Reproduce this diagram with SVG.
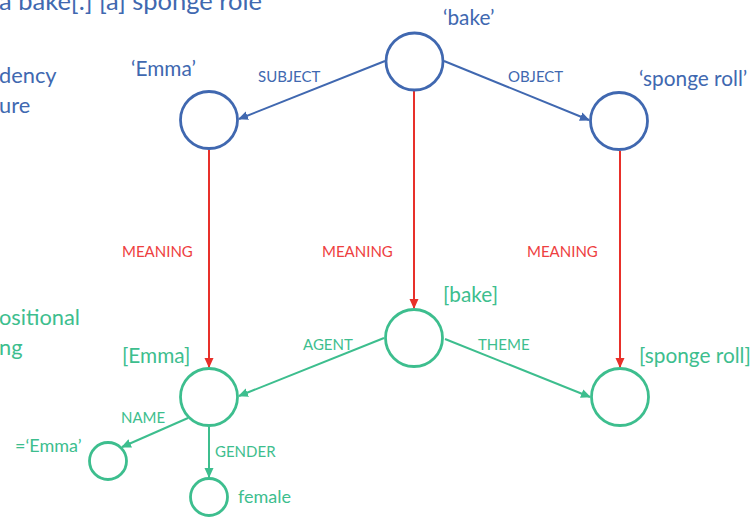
<svg xmlns="http://www.w3.org/2000/svg" width="752" height="518" viewBox="0 0 752 518">
<style>
text{font-family:Lato,"Open Sans","Liberation Sans",sans-serif}
.b{fill:#4068B0}
.g{fill:#3DBE8E}
.r{fill:#EE4040}
.big{font-size:20.8px}
.lab{font-size:15px}
.val{font-size:18px}
.side{font-size:21.8px}
.nb{fill:#fff;stroke:#4068B0;stroke-width:2.8}
.ng{fill:#fff;stroke:#3DBE8E;stroke-width:2.8}
.eb{stroke:#4068B0;stroke-width:2;fill:none}
.eg{stroke:#3DBE8E;stroke-width:2;fill:none}
.er{stroke:#E8302A;stroke-width:2;fill:none}
</style>
<defs>
<marker id="ab" viewBox="0 0 10 10" refX="9" refY="5" markerWidth="5" markerHeight="5" orient="auto" markerUnits="strokeWidth"><path d="M0,0.5 L10,5 L0,9.5 z" fill="#4068B0"/></marker>
<marker id="ag" viewBox="0 0 10 10" refX="9" refY="5" markerWidth="5" markerHeight="5" orient="auto" markerUnits="strokeWidth"><path d="M0,0.5 L10,5 L0,9.5 z" fill="#3DBE8E"/></marker>
<marker id="ar" viewBox="0 0 10 10" refX="9" refY="5" markerWidth="5" markerHeight="5" orient="auto" markerUnits="strokeWidth"><path d="M0,0.5 L10,5 L0,9.5 z" fill="#E8302A"/></marker>
</defs>
<rect width="752" height="518" fill="#fff"/>

<g id="side-text">
<text class="b" x="-1" y="10" font-size="25.5">a bake[.] [a] sponge role</text>
<text class="b side" x="-1" y="83">dency</text>
<text class="b side" x="-1" y="113">ure</text>
<text class="g side" x="-1" y="325">ositional</text>
<text class="g side" x="-1" y="355">ng</text>
</g>

<g id="connectors">
<line class="eb" x1="385" y1="61" x2="239" y2="119" marker-end="url(#ab)"/>
<line class="eb" x1="444" y1="61" x2="589" y2="120" marker-end="url(#ab)"/>
<line class="er" x1="209" y1="150" x2="209" y2="367" marker-end="url(#ar)"/>
<line class="er" x1="414" y1="91" x2="414" y2="308" marker-end="url(#ar)"/>
<line class="er" x1="620" y1="151" x2="620" y2="367" marker-end="url(#ar)"/>
<line class="eg" x1="384" y1="338" x2="239" y2="396" marker-end="url(#ag)"/>
<line class="eg" x1="445" y1="339" x2="590" y2="397" marker-end="url(#ag)"/>
<line class="eg" x1="188" y1="418" x2="122" y2="447" marker-end="url(#ag)"/>
<line class="eg" x1="209" y1="427" x2="209" y2="477" marker-end="url(#ag)"/>
<text class="b lab" x="258" y="82">SUBJECT</text>
<text class="b lab" x="508" y="82">OBJECT</text>
<text class="r lab" x="122" y="257">MEANING</text>
<text class="r lab" x="322" y="257">MEANING</text>
<text class="r lab" x="527" y="257">MEANING</text>
<text class="g lab" x="303" y="350">AGENT</text>
<text class="g lab" x="478" y="350">THEME</text>
<text class="g lab" x="121" y="423">NAME</text>
<text class="g lab" x="215" y="457">GENDER</text>
</g>

<g id="n-bake">
<circle class="nb" cx="414.5" cy="61.5" r="28.5"/>
<text class="b big" x="443" y="25">‘bake’</text>
</g>
<g id="n-emma">
<circle class="nb" cx="209" cy="120" r="28.5"/>
<text class="b big" x="131" y="76">‘Emma’</text>
</g>
<g id="n-sponge">
<circle class="nb" cx="619" cy="121" r="28.5"/>
<text class="b big" x="639" y="86">‘sponge roll’</text>
</g>
<g id="m-bake">
<circle class="ng" cx="414" cy="338" r="28.5"/>
<text class="g big" x="443" y="302">[bake]</text>
</g>
<g id="m-emma">
<circle class="ng" cx="209" cy="397" r="28.5"/>
<text class="g big" x="122" y="363">[Emma]</text>
</g>
<g id="m-sponge">
<circle class="ng" cx="620" cy="397" r="28.5"/>
<text class="g big" x="639" y="363">[sponge roll]</text>
</g>
<g id="m-name">
<circle class="ng" cx="108" cy="461" r="18.5"/>
<text class="g val" x="15" y="452">=‘Emma’</text>
</g>
<g id="m-female">
<circle class="ng" cx="209" cy="497" r="18.5"/>
<text class="g val" x="238" y="503">female</text>
</g>
</svg>
